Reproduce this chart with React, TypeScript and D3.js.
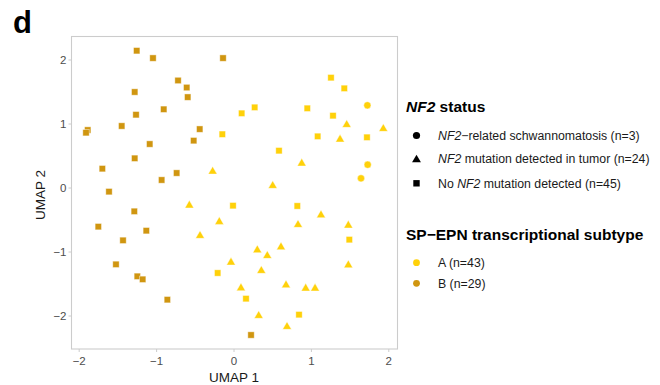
import React from "react";
import * as d3 from "d3";

// UMAP coordinates per point
const umap1: number[] = [
  // subtype B, no NF2 mutation (squares)
  -1.257, -1.047, -0.142, -0.723, -0.611, -0.598, -1.283, -0.908, -1.266, -1.89, -1.912, -1.451, -0.443, -0.521,
  -1.089, -1.283, -1.701, -0.741, -0.935, -1.615, -1.288, -1.753, -1.133, -1.434, -1.525, -1.249, -1.18, -0.861, 0.22,
  // subtype A, no NF2 mutation (squares)
  -0.151, 0.099, 0.267, -0.013, -0.211, 0.818, 1.49, 0.155, 0.84, 1.253, 1.425, 0.947, 1.279, 1.081, 1.718, 0.581,
  // subtype A, NF2 mutation in tumor (triangles)
  -0.276, -0.577, -0.19, -0.439, -0.039, 0.09, 0.5, 1.124, 0.827, 1.477, 0.301, 0.607, 0.43, 0.353, 1.477, 0.672,
  0.926, 1.047, 0.319, 0.685, 1.456, 1.929, 1.37, 0.875,
  // subtype A, schwannomatosis (circles)
  1.723, 1.727, 1.641,
];
const umap2: number[] = [
  2.145, 2.03, 2.03, 1.68, 1.57, 1.42, 1.5, 1.23, 1.145, 0.906, 0.864, 0.969, 0.92, 0.74,
  0.687, 0.464, 0.302, 0.234, 0.125, -0.057, -0.365, -0.604, -0.667, -0.818, -1.193, -1.38, -1.427, -1.745, -2.297,
  0.84, 1.167, 1.26, -0.276, -1.328, -0.281, -0.807, -1.729, -1.979, 1.724, 1.557, 1.245, 1.13, 0.807, 0.792, 0.583,
  0.27, -0.26, -0.516, -0.734, -1.151, -1.552, 0.047, -0.411, -0.5625, -0.573, -0.958, -0.911, -1.047, -1.281, -1.193, -1.505,
  -1.557, -1.557, -1.984, -2.156, 1.0, 0.9375, 0.771, 0.396,
  1.292, 0.364, 0.151,
];
const subtype: string[] = [
  ...Array(29).fill("B"),
  ...Array(16).fill("A"),
  ...Array(24).fill("A"),
  ...Array(3).fill("A"),
];
const nf2Status: string[] = [
  ...Array(29).fill("none"),
  ...Array(16).fill("none"),
  ...Array(24).fill("tumor"),
  ...Array(3).fill("schwann"),
];

const xTicks = [-2, -1, 0, 1, 2];
const yTicks = [-2, -1, 0, 1, 2];

const subtypeColor: Record<string, string> = { A: "#FFD10A", B: "#D09610" };

const FONT = "'Liberation Sans', Arial, Helvetica, sans-serif";

function Marker({ shape, x, y, fill, legend }: { shape: string; x: number; y: number; fill: string; legend?: boolean }) {
  const stroke = legend ? "none" : "rgba(255,255,255,0.55)";
  if (shape === "schwann") return <circle cx={x} cy={y} r={3.6} fill={fill} stroke={stroke} strokeWidth={0.8} />;
  if (shape === "tumor") {
    const sym = d3.symbol().type(d3.symbolTriangle).size(34)();
    return <path d={sym as string} transform={`translate(${x},${y + 0.8})`} fill={fill} stroke={stroke} strokeWidth={0.8} />;
  }
  const s = 6.4;
  return <rect x={x - s / 2} y={y - s / 2} width={s} height={s} fill={fill} stroke={stroke} strokeWidth={0.8} />;
}

export default function App() {
  const W = 660, H = 385;
  const left = 71.5, right = 397.5, top = 36.5, bottom = 349;
  const x = d3.scaleLinear().domain([-2, 2]).range([156.6 - 77.4, 311.4 + 77.4]);
  const y = d3.scaleLinear().domain([-2, 2]).range([316, 60]);

  const legendText = "#1a1a1a";
  const itemFs = 12.3;
  const titleFs = 15.5;
  return (
    <svg width={W} height={H} style={{ position: "absolute", left: 0, top: 0, background: "#fff" }} fontFamily={FONT}>
      <text x={13} y={33} fontSize={31} fontWeight="bold" fill="#000">d</text>

      {/* panel */}
      <rect x={left} y={top} width={right - left} height={bottom - top} fill="#fff" stroke="#cccccc" strokeWidth={1.1} />

      {/* points */}
      {umap1.map((u, i) => (
        <Marker key={i} shape={nf2Status[i]} x={x(u)} y={y(umap2[i])} fill={subtypeColor[subtype[i]]} />
      ))}

      {/* x axis */}
      {xTicks.map((t) => (
        <g key={"x" + t}>
          <line x1={x(t)} x2={x(t)} y1={bottom} y2={bottom + 3} stroke="#cccccc" strokeWidth={1} />
          <text x={x(t)} y={bottom + 15.5} fontSize={11.5} fill="#4d4d4d" textAnchor="middle">
            {t < 0 ? "\u2212" + Math.abs(t) : t}
          </text>
        </g>
      ))}
      {yTicks.map((t) => (
        <g key={"y" + t}>
          <line x1={left - 3} x2={left} y1={y(t)} y2={y(t)} stroke="#cccccc" strokeWidth={1} />
          <text x={left - 5} y={y(t) + 4} fontSize={11.5} fill="#4d4d4d" textAnchor="end">
            {t < 0 ? "\u2212" + Math.abs(t) : t}
          </text>
        </g>
      ))}
      <text x={x(0)} y={382} fontSize={13.5} fill="#1a1a1a" textAnchor="middle">UMAP 1</text>
      <text transform={`translate(45,195) rotate(-90)`} fontSize={13.5} fill="#1a1a1a" textAnchor="middle">UMAP 2</text>

      {/* legend */}
      <text x={406} y={111.5} fontSize={titleFs} fontWeight="bold" fill="#000">
        <tspan fontStyle="italic">NF2</tspan> status
      </text>
      <Marker shape="schwann" x={416.5} y={135.5} fill="#000" legend />
      <text x={438} y={139.8} fontSize={itemFs} fill={legendText}>
        <tspan fontStyle="italic">NF2</tspan>{"\u2212related schwannomatosis (n=3)"}
      </text>
      <Marker shape="tumor" x={416.5} y={159} fill="#000" legend />
      <text x={438} y={163.3} fontSize={itemFs} fill={legendText}>
        <tspan fontStyle="italic">NF2</tspan> mutation detected in tumor (n=24)
      </text>
      <Marker shape="none" x={416.5} y={183.3} fill="#000" legend />
      <text x={438} y={187.6} fontSize={itemFs} fill={legendText}>
        No <tspan fontStyle="italic">NF2</tspan> mutation detected (n=45)
      </text>

      <text x={406} y={239.5} fontSize={titleFs} fontWeight="bold" fill="#000">{"SP\u2212EPN transcriptional subtype"}</text>
      <circle cx={416.5} cy={262.7} r={3.4} fill={subtypeColor.A} />
      <text x={438} y={267} fontSize={itemFs} fill={legendText}>A (n=43)</text>
      <circle cx={416.5} cy={283.3} r={3.4} fill={subtypeColor.B} />
      <text x={438} y={287.6} fontSize={itemFs} fill={legendText}>B (n=29)</text>
    </svg>
  );
}
